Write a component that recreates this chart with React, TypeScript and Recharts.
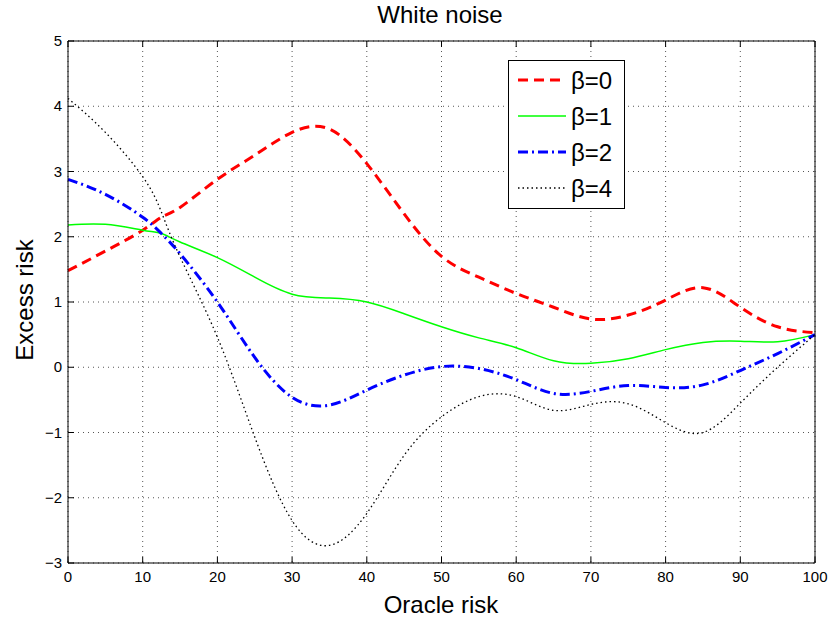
import { LineChart, Line, XAxis, YAxis, CartesianGrid, Legend } from "recharts";

const ORACLE = [0, 5, 10, 12.5, 15, 20, 25, 30, 35, 40, 45, 50, 55, 60, 65, 70, 75, 80, 85, 90, 95, 100];
const BETA0 = [1.48, 1.78, 2.1, 2.3, 2.45, 2.88, 3.25, 3.6, 3.65, 3.12, 2.35, 1.7, 1.38, 1.13, 0.92, 0.74, 0.8, 1.03, 1.22, 0.92, 0.62, 0.53];
const BETA1 = [2.18, 2.19, 2.1, 2.05, 1.92, 1.68, 1.38, 1.12, 1.06, 1.0, 0.82, 0.62, 0.45, 0.3, 0.1, 0.06, 0.13, 0.27, 0.38, 0.4, 0.39, 0.5];
const BETA2 = [2.88, 2.65, 2.3, 2.05, 1.74, 1.0, 0.15, -0.46, -0.58, -0.35, -0.12, 0.01, -0.02, -0.19, -0.4, -0.37, -0.28, -0.31, -0.27, -0.05, 0.21, 0.5];
const BETA4 = [4.12, 3.6, 2.92, 2.38, 1.69, 0.46, -1.07, -2.35, -2.73, -2.24, -1.35, -0.76, -0.45, -0.45, -0.66, -0.57, -0.56, -0.85, -1.0, -0.55, 0.0, 0.5];

const X_TICKS = [0, 10, 20, 30, 40, 50, 60, 70, 80, 90, 100];
const Y_TICKS = [-3, -2, -1, 0, 1, 2, 3, 4, 5];

const SERIES = [
  { key: "b0", name: "β=0", color: "#ff0000", width: 3, dash: "10 6" },
  { key: "b1", name: "β=1", color: "#00ff00", width: 1.5, dash: undefined },
  { key: "b2", name: "β=2", color: "#0000ff", width: 3, dash: "10 4 2 4" },
  { key: "b4", name: "β=4", color: "#000000", width: 1.3, dash: "1.5 3" },
];

const data = ORACLE.map((x, i) => ({
  x,
  b0: BETA0[i],
  b1: BETA1[i],
  b2: BETA2[i],
  b4: BETA4[i],
}));

const FONT = "'Liberation Sans', Arial, Helvetica, sans-serif";
const fmt = (v: number) => (v < 0 ? `\u2212${-v}` : `${v}`);

// plot box: left 68, right 815, top 41, bottom 563
function BottomTick({ x, payload }: any) {
  return (
    <g>
      <line x1={x} x2={x} y1={563} y2={557} stroke="#000" />
      <text x={x} y={582} textAnchor="middle" fontSize={15} fontFamily={FONT} fill="#000">
        {fmt(payload.value)}
      </text>
    </g>
  );
}

function LeftTick({ y, payload }: any) {
  return (
    <g>
      <line x1={68} x2={74} y1={y} y2={y} stroke="#000" />
      <text x={62} y={y + 5} textAnchor="end" fontSize={15} fontFamily={FONT} fill="#000">
        {fmt(payload.value)}
      </text>
    </g>
  );
}

function TopTick({ x }: any) {
  return <line x1={x} x2={x} y1={41} y2={47} stroke="#000" />;
}

function RightTick({ y }: any) {
  return <line x1={815} x2={809} y1={y} y2={y} stroke="#000" />;
}

function LegendBox() {
  return (
    <svg width={117} height={149} style={{ display: "block" }}>
      <rect x={0.5} y={0.5} width={116} height={148} fill="#fff" stroke="#000" />
      {SERIES.map((s, i) => {
        const cy = 20 + i * 36;
        return (
          <g key={s.key}>
            <line x1={10} x2={58} y1={cy} y2={cy} stroke={s.color} strokeWidth={s.width} strokeDasharray={s.dash} />
            <text x={63} y={cy + 9} fontSize={24} fontFamily={FONT} fill="#000">
              {s.name}
            </text>
          </g>
        );
      })}
    </svg>
  );
}

export default function App() {
  return (
    <div style={{ position: "absolute", left: 0, top: 0, width: 832, height: 618, background: "#fff" }}>
      <LineChart width={832} height={618} data={data} margin={{ top: 21, right: 7, bottom: 25, left: 28 }}>
        <CartesianGrid stroke="#555" strokeDasharray="1 4" />
        <XAxis
          dataKey="x"
          type="number"
          domain={[0, 100]}
          ticks={X_TICKS}
          height={30}
          tickLine={false}
          axisLine={{ stroke: "#000" }}
          tick={<BottomTick />}
          label={{
            content: () => (
              <text x={441} y={613} textAnchor="middle" fontSize={24} fontFamily={FONT} fill="#000">
                Oracle risk
              </text>
            ),
          }}
        />
        <XAxis
          xAxisId="top"
          orientation="top"
          dataKey="x"
          type="number"
          domain={[0, 100]}
          ticks={X_TICKS}
          height={20}
          tickLine={false}
          axisLine={{ stroke: "#000" }}
          tick={<TopTick />}
          label={{
            content: () => (
              <text x={440} y={23} textAnchor="middle" fontSize={24} fontFamily={FONT} fill="#000">
                White noise
              </text>
            ),
          }}
        />
        <YAxis
          type="number"
          domain={[-3, 5]}
          ticks={Y_TICKS}
          width={40}
          tickLine={false}
          axisLine={{ stroke: "#000" }}
          tick={<LeftTick />}
          label={{
            content: () => (
              <text
                x={33}
                y={300}
                transform="rotate(-90, 33, 300)"
                textAnchor="middle"
                fontSize={24}
                fontFamily={FONT}
                fill="#000"
              >
                Excess risk
              </text>
            ),
          }}
        />
        <YAxis
          yAxisId="right"
          orientation="right"
          type="number"
          domain={[-3, 5]}
          ticks={Y_TICKS}
          width={10}
          tickLine={false}
          axisLine={{ stroke: "#000" }}
          tick={<RightTick />}
        />
        {SERIES.map((s) => (
          <Line
            key={s.key}
            dataKey={s.key}
            name={s.name}
            type="natural"
            stroke={s.color}
            strokeWidth={s.width}
            strokeDasharray={s.dash}
            dot={false}
            activeDot={false}
            isAnimationActive={false}
          />
        ))}
        <Legend
          layout="vertical"
          align="center"
          verticalAlign="middle"
          content={() => <LegendBox />}
          wrapperStyle={{ left: 508, top: 60, width: 117, height: 149 }}
        />
      </LineChart>
    </div>
  );
}
